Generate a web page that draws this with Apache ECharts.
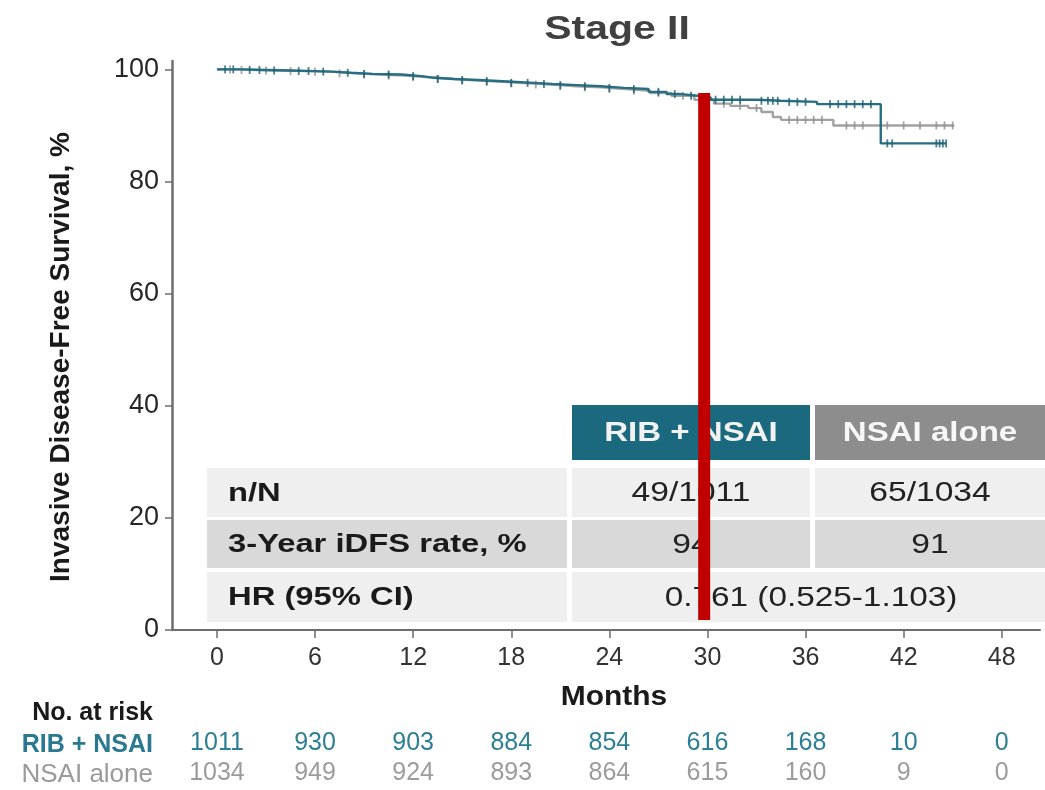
<!DOCTYPE html>
<html><head><meta charset="utf-8">
<script src="https://cdn.jsdelivr.net/npm/echarts@6/dist/echarts.min.js"></script>
<style>html,body{margin:0;padding:0;background:#fff}#c{width:1045px;height:790px}</style>
</head><body><div id="c"></div>
<script>
// ---------------- data ----------------
const titleText = 'Stage II';
const yAxisTitle = 'Invasive Disease-Free Survival, %';
const xAxisTitle = 'Months';
const monthTicks = [0, 6, 12, 18, 24, 30, 36, 42, 48];
const yTicks = [0, 20, 40, 60, 80, 100];
const groupNames = ['RIB + NSAI', 'NSAI alone'];

// Kaplan-Meier step points (month, survival %)
const ribTimes = [0, 1.5, 3, 4.5, 6, 7, 8.2, 9.5, 11.3, 12.5, 13.3, 14.5, 16, 17.5, 19.4, 20.5, 22, 23.5, 24.9, 26.4, 27.5, 28.4, 29.4, 30.2, 33, 34.5, 36.7, 40.6, 44.6];
const ribSurv  = [100, 99.9, 99.8, 99.7, 99.6, 99.4, 99.2, 99.1, 98.8, 98.5, 98.3, 98.1, 97.9, 97.6, 97.4, 97.2, 97.0, 96.7, 96.5, 96.0, 95.6, 95.3, 95.0, 94.6, 94.4, 94.2, 93.8, 86.8, 86.8];
const nsaiTimes = [0, 1.2, 2.5, 4, 5.5, 7, 8.5, 10, 11.5, 13, 14.5, 16, 17.5, 19, 20.5, 22, 23.5, 25, 26.5, 27.8, 29.2, 30.4, 31.4, 32.5, 33.3, 34, 34.5, 37.7, 45.1];
const nsaiSurv  = [100, 99.9, 99.8, 99.7, 99.6, 99.3, 99.1, 98.9, 98.6, 98.3, 98.0, 97.8, 97.5, 97.3, 97.0, 96.8, 96.5, 96.2, 95.8, 95.3, 94.6, 93.9, 93.5, 93.1, 92.4, 91.5, 91.0, 90.0, 90.0];

// censoring times (months)
const ribCensor = [0.5, 1, 2, 2.6, 3.5, 5, 5.6, 6.5, 8, 9, 10.5, 12, 13.5, 15, 16.5, 18, 19, 20, 21, 22.5, 24, 25.5, 27, 28, 29, 30.5, 31, 31.5, 32, 33.3, 33.7, 34, 34.3, 35, 35.5, 36, 37.5, 38, 38.5, 39, 39.5, 40, 41, 41.3, 44, 44.2, 44.4, 44.6];
const nsaiCensor = [0.8, 1.5, 3, 4.5, 6, 7.5, 9, 10.5, 12, 13.5, 15, 16.5, 18, 19.5, 21, 22.5, 24, 25.5, 27, 28.5, 30, 31, 32, 33, 35, 35.5, 36, 36.5, 37, 38.5, 39, 39.5, 41, 42, 43, 44, 44.5, 45];

// reference marker (month) and its vertical extent (%)
const markerMonth = 29.8;
const markerRange = [95.8, 1.8];

// table
const tableHeaders = ['RIB + NSAI', 'NSAI alone'];
const rowLabels = ['n/N', '3-Year iDFS rate, %', 'HR (95% CI)'];
const ribValues = ['49/1011', '94'];
const nsaiValues = ['65/1034', '91'];
const hrText = '0.761 (0.525-1.103)';

// number at risk
const riskTitle = 'No. at risk';
const ribAtRisk = [1011, 930, 903, 884, 854, 616, 168, 10, 0];
const nsaiAtRisk = [1034, 949, 924, 893, 864, 615, 160, 9, 0];

// ---------------- helpers ----------------
const TEAL = '#266f82', TEAL_DARK = '#1d5f70', GRAY = '#a2a2a2', GRAY_DARK = '#8f8f8f';
function pairs(t, s) { return t.map((v, i) => [v, s[i]]); }
function survAt(t, times, surv) {
  let v = surv[0];
  for (let i = 0; i < times.length; i++) { if (times[i] <= t) v = surv[i]; }
  return v;
}
function censorPts(c, times, surv) { return c.map(t => [t, survAt(t, times, surv)]); }

const FONT = '"Liberation Sans", Arial, sans-serif';
const chart = echarts.init(document.getElementById('c'), null, { renderer: 'canvas' });

function riskAxis(offset, arr, color) {
  return {
    type: 'value', gridIndex: 0, position: 'bottom', offset: offset,
    min: -2.75, max: 50.34,
    axisLine: { show: false, onZero: false }, axisTick: { show: false }, splitLine: { show: false },
    axisLabel: {
      customValues: monthTicks, margin: 8, color: color, fontSize: 25, fontFamily: FONT,
      formatter: v => { const i = monthTicks.indexOf(v); return i >= 0 ? String(arr[i]) : ''; }
    }
  };
}

// table graphics
const g = [];
function rect(x, y, w, h, fill) { g.push({ type: 'rect', shape: { x, y, width: w, height: h }, style: { fill } , z: 0}); }
function txt(text, x, y, opt) {
  g.push(Object.assign({
    type: 'text', x, y, z: 1,
    style: { text, font: opt.font, fill: opt.fill, textAlign: opt.align || 'center', textVerticalAlign: 'middle' }
  }, opt.extra || {}));
}
// header
rect(572, 405, 238, 55, '#1a697e');
rect(815, 405, 230, 55, '#8d8d8d');
txt(tableHeaders[0], 691, 433, { font: 'bold 28px ' + FONT, fill: '#f2f2f2', extra: { scaleX: 1.18 } });
txt(tableHeaders[1], 930, 433, { font: 'bold 28px ' + FONT, fill: '#f7f7f7', extra: { scaleX: 1.18 } });
const rowY = [[468, 49], [520, 48], [572, 50]];
const rowFill = ['#efefef', '#d9d9d9', '#efefef'];
rowY.forEach((r, i) => {
  rect(207, r[0], 360, r[1], rowFill[i]);
  if (i < 2) { rect(572, r[0], 238, r[1], rowFill[i]); rect(815, r[0], 230, r[1], rowFill[i]); }
  else { rect(572, r[0], 473, r[1], rowFill[i]); }
  const cy = r[0] + r[1] / 2 + 1;
  txt(rowLabels[i], 228, cy, { font: 'bold 26px ' + FONT, fill: '#1a1a1a', align: 'left', extra: { scaleX: 1.26 } });
  if (i < 2) {
    txt(ribValues[i], 691, cy, { font: '28px ' + FONT, fill: '#222', extra: { scaleX: 1.2 } });
    txt(nsaiValues[i], 930, cy, { font: '28px ' + FONT, fill: '#222', extra: { scaleX: 1.2 } });
  } else {
    txt(hrText, 811, cy, { font: '28px ' + FONT, fill: '#222', extra: { scaleX: 1.19 } });
  }
});
// titles
txt(titleText, 617, 30, { font: 'bold 33px ' + FONT, fill: '#404040', extra: { scaleX: 1.24 } });
txt(yAxisTitle, 61, 357, { font: 'bold 28px ' + FONT, fill: '#1a1a1a', extra: { rotation: Math.PI / 2 } });
txt(xAxisTitle, 614, 697, { font: 'bold 28px ' + FONT, fill: '#1a1a1a', extra: { scaleX: 1.07 } });
txt(riskTitle, 153, 713, { font: 'bold 25px ' + FONT, fill: '#1a1a1a', align: 'right' });
txt(groupNames[0], 153, 745, { font: 'bold 25px ' + FONT, fill: '#2a7990', align: 'right' });
txt(groupNames[1], 153, 775, { font: '26px ' + FONT, fill: '#9a9a9a', align: 'right' });

const option = {
  animation: false,
  backgroundColor: '#fff',
  grid: { left: 172, right: 5, top: 61, bottom: 160, containLabel: false },
  xAxis: [
    {
      type: 'value', min: -2.75, max: 50.34,
      axisLine: { show: true, onZero: false, lineStyle: { color: '#6e6e6e', width: 2 } },
      axisTick: { show: true, length: 8, lineStyle: { color: '#6e6e6e', width: 1.5 }, customValues: monthTicks },
      axisLabel: { customValues: monthTicks, margin: 16, color: '#333', fontSize: 25, fontFamily: FONT },
      splitLine: { show: false }
    },
    riskAxis(93, ribAtRisk, '#2d7f95'),
    riskAxis(123, nsaiAtRisk, '#9c9c9c')
  ],
  yAxis: {
    type: 'value', min: 0, max: 101.5,
    axisLine: { show: true, onZero: false, lineStyle: { color: '#6e6e6e', width: 2.5 } },
    axisTick: { show: true, length: 7, lineStyle: { color: '#6e6e6e', width: 1.5 }, customValues: yTicks },
    axisLabel: { customValues: yTicks, margin: 13, color: '#262626', fontSize: 27, fontFamily: FONT },
    splitLine: { show: false }
  },
  graphic: { elements: g },
  series: [
    { type: 'line', name: groupNames[1], step: 'end', data: pairs(nsaiTimes, nsaiSurv), showSymbol: false,
      lineStyle: { color: GRAY, width: 2.4 }, z: 3 },
    { type: 'scatter', data: censorPts(nsaiCensor, nsaiTimes, nsaiSurv), symbol: 'rect', symbolSize: [1.8, 8],
      itemStyle: { color: GRAY_DARK }, z: 3 },
    { type: 'line', name: groupNames[0], step: 'end', data: pairs(ribTimes, ribSurv), showSymbol: false,
      lineStyle: { color: TEAL, width: 2.4 }, z: 4 },
    { type: 'scatter', data: censorPts(ribCensor, ribTimes, ribSurv), symbol: 'rect', symbolSize: [1.8, 8],
      itemStyle: { color: TEAL_DARK }, z: 4 },
    { type: 'line', data: [[markerMonth, markerRange[0]], [markerMonth, markerRange[1]]], showSymbol: false,
      lineStyle: { color: '#c00000', width: 12, cap: 'butt' }, z: 10, silent: true }
  ]
};
chart.setOption(option);
</script></body></html>
